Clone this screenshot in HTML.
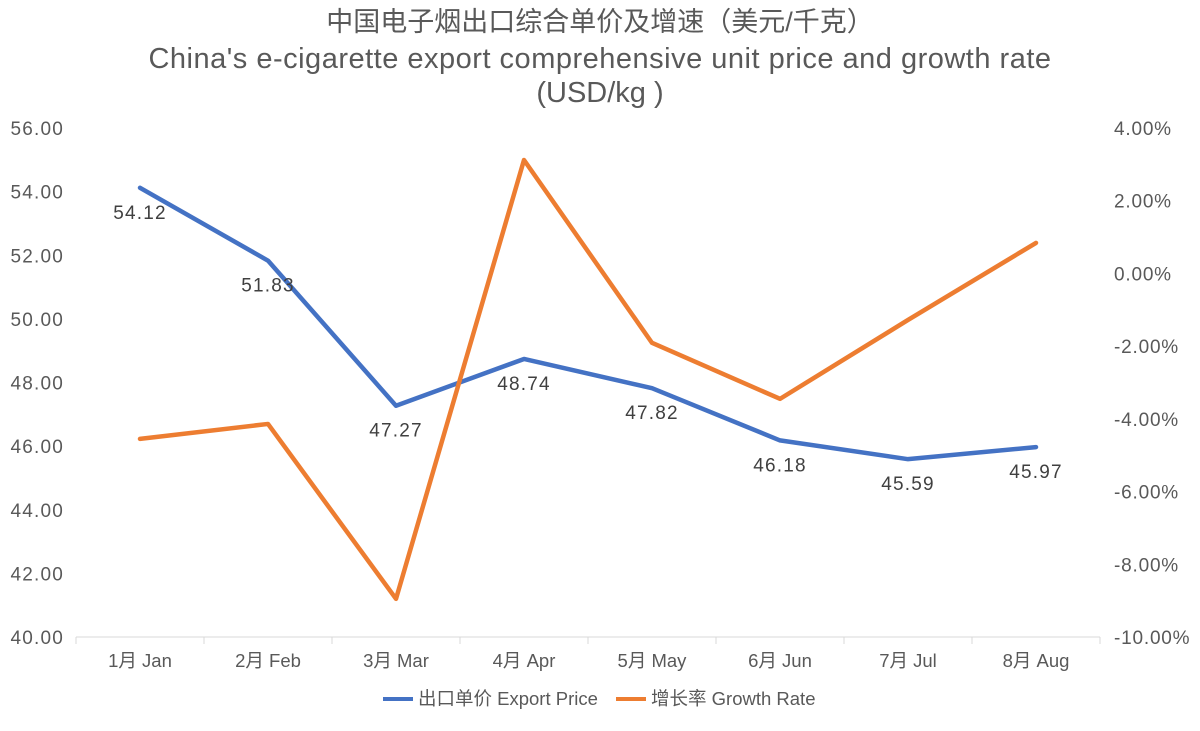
<!DOCTYPE html>
<html><head><meta charset="utf-8">
<style>
body{margin:0;background:#fff;}
svg text{font-family:"Liberation Sans","Noto Sans CJK SC",sans-serif;}
</style></head>
<body>
<svg id="chart" width="1200" height="726" xmlns="http://www.w3.org/2000/svg">
<rect width="1200" height="726" fill="#fff"/>
<text x="600" y="31" text-anchor="middle" font-size="27" fill="#595959">中国电子烟出口综合单价及增速（美元/千克）</text>
<text x="600" y="68" text-anchor="middle" font-size="29" fill="#595959" letter-spacing="0.5">China's e-cigarette export comprehensive unit price and growth rate</text>
<text x="600" y="102" text-anchor="middle" font-size="29" fill="#595959">(USD/kg )</text>
<g id="axes"></g>
<g id="series"></g>
<g>
<line x1="383" y1="699" x2="413" y2="699" stroke="#4472C4" stroke-width="4"/>
<text x="418" y="705" font-size="18.5" fill="#595959">出口单价 Export Price</text>
<line x1="616" y1="699" x2="646" y2="699" stroke="#ED7D31" stroke-width="4"/>
<text x="651" y="705" font-size="18.5" fill="#595959">增长率 Growth Rate</text>
</g>
</svg>
<script>
const categories=["1月 Jan","2月 Feb","3月 Mar","4月 Apr","5月 May","6月 Jun","7月 Jul","8月 Aug"];
const exportPrice=[54.12,51.83,47.27,48.74,47.82,46.18,45.59,45.97];
const growthRate=[-4.55,-4.14,-8.95,3.12,-1.91,-3.45,-1.28,0.84];
const leftTicks=[40,42,44,46,48,50,52,54,56];
const rightTicks=[-10,-8,-6,-4,-2,0,2,4];
const NS="http://www.w3.org/2000/svg";
const X0=76,X1=1100,Y0=637,Y1=128;
const xs=i=>X0+(i+0.5)*(X1-X0)/categories.length;
const yL=v=>Y0-(v-40)/16*(Y0-Y1);
const yR=v=>Y0-(v+10)/14*(Y0-Y1);
function mk(tag,attrs,parent){const e=document.createElementNS(NS,tag);for(const k in attrs)e.setAttribute(k,attrs[k]);parent.appendChild(e);return e;}
const axes=document.getElementById('axes'),ser=document.getElementById('series');
let a=mk('line',{x1:X0,x2:X1,y1:Y0,y2:Y0,stroke:'#d9d9d9','stroke-width':1},axes);


for(let i=0;i<=categories.length;i++){const x=X0+i*(X1-X0)/categories.length;mk('line',{x1:x,x2:x,y1:Y0,y2:Y0+7,stroke:'#d9d9d9'},axes);}
categories.forEach((c,i)=>{const t=mk('text',{x:xs(i),y:667,'text-anchor':'middle','font-size':18.5,fill:'#595959'},axes);t.textContent=c;

});
leftTicks.forEach(v=>{const t=mk('text',{x:64,y:yL(v)+7,'text-anchor':'end','font-size':19,'letter-spacing':1.2,fill:'#595959'},axes);t.textContent=v.toFixed(2);

});
rightTicks.forEach(v=>{const t=mk('text',{x:1114,y:yR(v)+7,'text-anchor':'start','font-size':19,'letter-spacing':0.8,fill:'#595959'},axes);t.textContent=v.toFixed(2)+'%';

});
const p1=mk('polyline',{points:exportPrice.map((v,i)=>xs(i)+','+yL(v)).join(' '),fill:'none',stroke:'#4472C4','stroke-width':4.5,'stroke-linejoin':'round','stroke-linecap':'round'},ser);


const p2=mk('polyline',{points:growthRate.map((v,i)=>xs(i)+','+yR(v)).join(' '),fill:'none',stroke:'#ED7D31','stroke-width':4.5,'stroke-linejoin':'round','stroke-linecap':'round'},ser);


exportPrice.forEach((v,i)=>{const t=mk('text',{x:xs(i),y:yL(v)+31,'text-anchor':'middle','font-size':19,'letter-spacing':1.2,fill:'#404040'},ser);t.textContent=v.toFixed(2);

});
</script>
</body></html>
